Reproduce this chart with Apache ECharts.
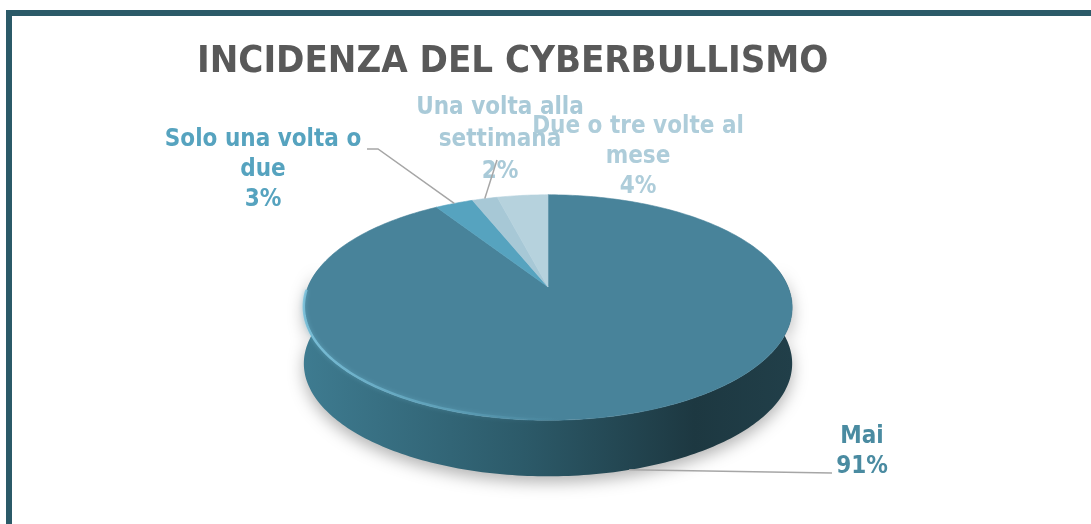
<!DOCTYPE html>
<html lang="it">
<head>
    <meta charset="UTF-8">
    <title>Incidenza del cyberbullismo</title>
    <style>
        html, body { margin: 0; padding: 0; background: #ffffff; }
        #main { width: 1091px; height: 524px; }
    </style>
</head>
<body>
    <div id="main"></div>
</body>
<script src="https://cdn.jsdelivr.net/npm/echarts@6/dist/echarts.min.js"></script>
<script>
    var categories = ['Mai', 'Solo una volta o due', 'Una volta alla settimana', 'Due o tre volte al mese'];
    var percents = [91, 3, 2, 4];
    var labelNames = [['Mai'], ['Solo una volta o', 'due'], ['Una volta alla', 'settimana'], ['Due o tre volte al', 'mese']];

    var topColors = ['#48839a', '#56a3bf', '#a7c8d6', '#b6d2dd'];
    var labelColors = ['#4a8ba1', '#56a3bf', '#a9cad8', '#aecdda'];

    // layout of the Excel labels (centre of text block, start of leader line)
    var labelLayout = [
        { x: 862, y: 452, lh: 30, lead: [[832, 473]], bottom: true },
        { x: 263, y: 170, lh: 30, lead: [[367, 149], [378, 149]] },
        { x: 500, y: 140, lh: 32, lead: [[497, 160]] },
        { x: 638, y: 157, lh: 30, lead: null }
    ];

    // simple perspective projection of the tilted disc
    var P = { cx: 548, cy: 287, F: 1174, D: 4.89, s: 0.454, c: 0.891, depth: 56 };
    function proj(deg, r, drop) {
        var t = deg * Math.PI / 180;
        var X = r * Math.sin(t), Z = -r * Math.cos(t);
        var k = P.F / (P.D - Z * P.c);
        return [P.cx + X * k, P.cy + Z * P.s * k + (drop ? P.depth : 0)];
    }
    function arc(a0, a1, drop) {
        var pts = [];
        var n = Math.max(2, Math.ceil(Math.abs(a1 - a0)));
        for (var j = 0; j <= n; j++) {
            pts.push(proj(a0 + (a1 - a0) * j / n, 1, drop));
        }
        return pts;
    }

    var total = percents.reduce(function (a, b) { return a + b; }, 0);
    var starts = [], acc = 0;
    percents.forEach(function (v) { starts.push(acc / total * 360); acc += v; });
    function angles(i) { return [starts[i], starts[i] + percents[i] / total * 360]; }

    var myChart = echarts.init(document.getElementById('main'));

    var sideFill = new echarts.graphic.LinearGradient(0, 0, 1, 0, [
        { offset: 0, color: '#3e7b90' },
        { offset: 0.45, color: '#2c5a69' },
        { offset: 0.8, color: '#1d3841' },
        { offset: 1, color: '#213f49' }
    ]);

    var option = {
        backgroundColor: '#ffffff',
        animation: false,
        title: {
            text: 'INCIDENZA DEL CYBERBULLISMO',
            left: 192,
            top: 38,
            textStyle: {
                fontFamily: 'DejaVu Sans Condensed',
                fontWeight: 'bold',
                fontSize: 38,
                color: '#595959'
            }
        },
        graphic: [
            { type: 'rect', shape: { x: 6, y: 10, width: 1085, height: 6 }, style: { fill: '#2b5a68' } },
            { type: 'rect', shape: { x: 6, y: 10, width: 6, height: 514 }, style: { fill: '#2b5a68' } }
        ],
        series: [{
            // outer wall of the pie
            type: 'custom',
            coordinateSystem: 'none',
            z: 1,
            data: percents,
            renderItem: function (params, api) {
                var a = angles(params.dataIndex);
                var a0 = Math.max(a[0], 80), a1 = Math.min(a[1], 280);
                if (a1 <= a0) return null;
                var top = arc(a0, a1, false);
                var bot = arc(a1, a0, true);
                return {
                    type: 'polygon',
                    shape: { points: top.concat(bot) },
                    style: {
                        fill: params.dataIndex === 0 ? sideFill : '#2c5a69',
                        shadowBlur: 16,
                        shadowColor: 'rgba(0,0,0,0.3)',
                        shadowOffsetY: 6
                    }
                };
            }
        }, {
            // top face of the pie
            type: 'custom',
            coordinateSystem: 'none',
            z: 2,
            data: percents,
            renderItem: function (params, api) {
                var i = params.dataIndex;
                var a = angles(i);
                var pts = [proj(0, 0, false)].concat(arc(a[0], a[1], false));
                var children = [{
                    type: 'polygon',
                    shape: { points: pts },
                    style: { fill: topColors[i], stroke: topColors[i], lineWidth: 0.6 }
                }];
                if (i === 0) {
                    children.push({
                        type: 'polyline',
                        shape: { points: arc(178, 268, false).map(function (p) { return [p[0], p[1] - 1]; }) },
                        style: {
                            fill: null,
                            lineWidth: 2.5,
                            stroke: new echarts.graphic.LinearGradient(0, 0, 1, 0, [
                                { offset: 0, color: 'rgba(125,195,220,0.9)' },
                                { offset: 0.6, color: 'rgba(105,175,200,0.5)' },
                                { offset: 1, color: 'rgba(90,160,185,0)' }
                            ]),
                            shadowBlur: 4,
                            shadowColor: 'rgba(120,190,215,0.6)'
                        }
                    });
                }
                return { type: 'group', children: children };
            }
        }, {
            // data labels with leader lines
            type: 'custom',
            coordinateSystem: 'none',
            z: 3,
            data: percents,
            renderItem: function (params, api) {
                var i = params.dataIndex;
                var a = angles(i);
                var L = labelLayout[i];
                var children = [{
                    type: 'text',
                    x: L.x,
                    y: L.y,
                    style: {
                        text: labelNames[i].concat([percents[i] + '%']).join('\n'),
                        fill: labelColors[i],
                        font: 'bold 24px "DejaVu Sans Condensed"',
                        align: 'center',
                        verticalAlign: 'middle',
                        lineHeight: L.lh
                    }
                }];
                if (L.lead) {
                    var end = proj((a[0] + a[1]) / 2, 1, !!L.bottom);
                    children.push({
                        type: 'polyline',
                        shape: { points: L.lead.concat([end]) },
                        style: { fill: null, stroke: '#a6a6a6', lineWidth: 1.5 }
                    });
                }
                return { type: 'group', children: children };
            }
        }]
    };
    myChart.setOption(option);
</script>
</html>
